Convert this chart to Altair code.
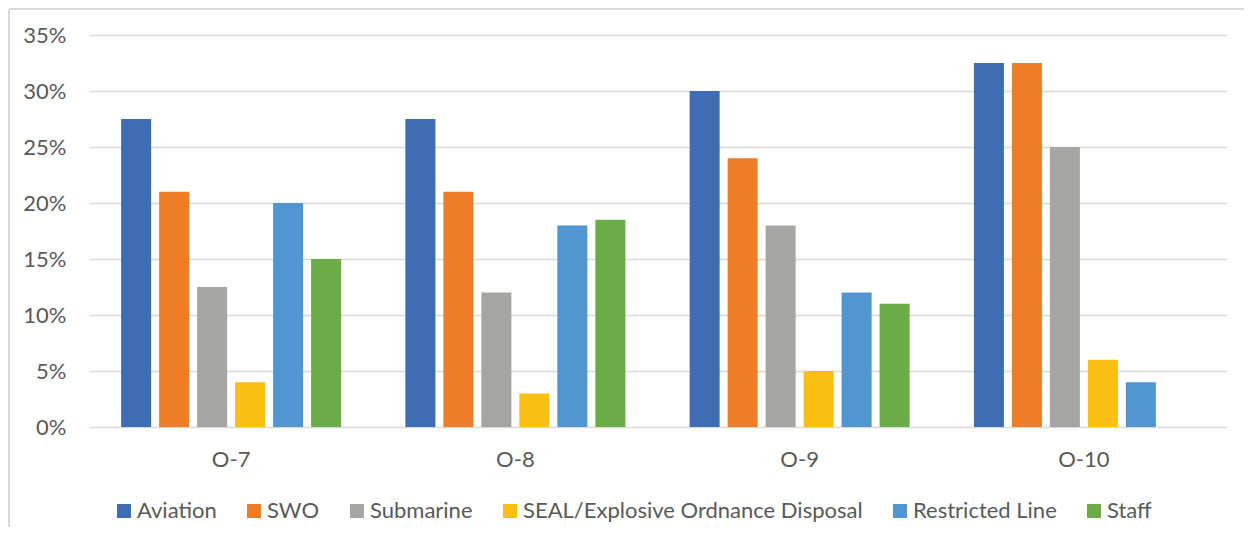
import altair as alt
import pandas as pd

grades = ["O-7", "O-8", "O-9", "O-10"]
series = ["Aviation", "SWO", "Submarine", "SEAL/Explosive Ordnance Disposal", "Restricted Line", "Staff"]
colors = ["#3E6DB5", "#ED7D26", "#A5A5A4", "#FBBE15", "#5096D2", "#6AAC46"]

aviation = [27.5, 27.5, 30, 32.5]
swo = [21, 21, 24, 32.5]
submarine = [12.5, 12, 18, 25]
seal = [4, 3, 5, 6]
restricted = [20, 18, 12, 4]
staff = [15, 18.5, 11, None]

y_ticks = [0, 5, 10, 15, 20, 25, 30, 35]

rows = []
for s, vals in zip(series, [aviation, swo, submarine, seal, restricted, staff]):
    for g, v in zip(grades, vals):
        if v is not None:
            rows.append({"grade": g, "series": s, "value": v})
df = pd.DataFrame(rows)

FONT = "Lato"
TXT = "#595959"
W, H = 1137, 392

bars = alt.Chart(df).mark_bar().encode(
    x=alt.X("grade:N", sort=grades, title=None,
            scale=alt.Scale(paddingInner=0.198, paddingOuter=0.099),
            axis=alt.Axis(labelAngle=0, ticks=False, domain=False, grid=False, labelPadding=22,
                          labelFont=FONT, labelFontSize=22, labelColor=TXT)),
    xOffset=alt.XOffset("series:N", sort=series,
                        scale=alt.Scale(paddingInner=0.21, paddingOuter=0.105)),
    y=alt.Y("value:Q", title=None,
            scale=alt.Scale(domain=[0, 35], nice=False),
            axis=alt.Axis(values=y_ticks, labelExpr="datum.value + '%'", ticks=False,
                          domain=False, gridColor="#D9D9D9", gridWidth=1.3, labelPadding=23,
                          labelFont=FONT, labelFontSize=22, labelColor=TXT)),
    color=alt.Color("series:N", sort=series,
                    scale=alt.Scale(domain=series, range=colors),
                    legend=alt.Legend(title=None, orient="none", legendX=24, legendY=465,
                                      direction="horizontal", columns=6,
                                      symbolType="square", symbolSize=196,
                                      symbolStrokeWidth=0, labelOffset=2,
                                      columnPadding=26, labelLimit=0,
                                      labelFont=FONT, labelFontSize=22, labelColor=TXT)),
)

border_df = pd.DataFrame({"k": [0]})
left_border = alt.Chart(border_df).mark_rule(color="#D9D9D9", strokeWidth=2).encode(
    x=alt.value(-80), y=alt.value(-26), y2=alt.value(H + 120))
top_border = alt.Chart(border_df).mark_rule(color="#D9D9D9", strokeWidth=2).encode(
    y=alt.value(-26), x=alt.value(-80), x2=alt.value(W + 30))

chart = alt.layer(left_border, top_border, bars).properties(
    width=W, height=H,
    background="white",
    autosize=alt.AutoSizeParams(type="none"),
    padding={"left": 81, "top": 27, "right": 18, "bottom": 100},
).configure_view(stroke=None)

chart.save("out.html", embed_options={"renderer": "svg", "actions": False})
